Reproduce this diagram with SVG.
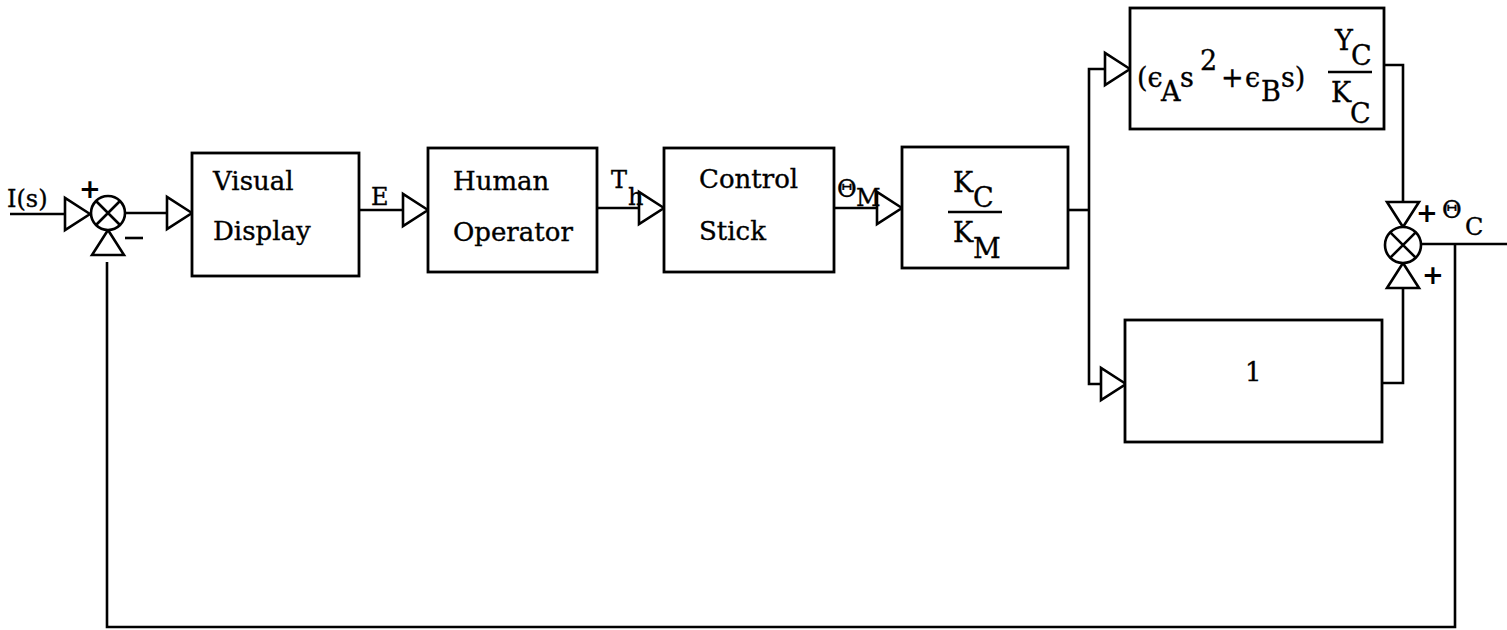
<svg xmlns="http://www.w3.org/2000/svg" xmlns:xlink="http://www.w3.org/1999/xlink" width="1507" height="630" viewBox="0 0 1507 630">
<style>
.box{fill:#fff;stroke:#000;stroke-width:2.8}
.ln{fill:none;stroke:#000;stroke-width:2.6;stroke-linejoin:miter}
.sum{fill:#fff;stroke:#000;stroke-width:2.6}
.t{font-family:"DejaVu Serif","Liberation Serif",serif;font-size:26px;fill:#000;stroke:#000;stroke-width:0.35}
.m{font-family:"DejaVu Serif","Liberation Serif",serif;font-size:27px;fill:#000;stroke:#000;stroke-width:0.35}
.s{font-family:"DejaVu Serif","Liberation Serif",serif;font-size:24px;fill:#000;stroke:#000;stroke-width:0.35}
.sg{font-family:"DejaVu Sans","Liberation Sans",sans-serif;font-size:26px;font-weight:bold;fill:#000}
</style>
<defs>
<path id="tri" d="M0,0 L-25,-16 L-25,16 Z" fill="#fff" stroke="#000" stroke-width="2.6" stroke-linejoin="miter"/>
</defs>
<rect width="1507" height="630" fill="#fff"/>
<g id="connectors">
<path class="ln" d="M10,214 H67"/>
<path class="ln" d="M125,213 H168"/>
<path class="ln" d="M359,210 H404"/>
<path class="ln" d="M597,208 H640"/>
<path class="ln" d="M834,208 H878"/>
<path class="ln" d="M1068,210 H1089"/>
<path class="ln" d="M1106,69 H1089 V384 H1102"/>
<path class="ln" d="M1384,65 H1403 V202"/>
<path class="ln" d="M1382,383 H1403 V288"/>
<path class="ln" d="M1421,244 H1507"/>
<path class="ln" d="M1455,244 V627 H107 V262"/>
<use xlink:href="#tri" href="#tri" x="90" y="214"/>
<use xlink:href="#tri" href="#tri" x="192" y="213"/>
<use xlink:href="#tri" href="#tri" x="428" y="210"/>
<use xlink:href="#tri" href="#tri" x="664" y="208"/>
<use xlink:href="#tri" href="#tri" x="902" y="208"/>
<use xlink:href="#tri" href="#tri" x="1130" y="69"/>
<use xlink:href="#tri" href="#tri" x="1126" y="384"/>
<use xlink:href="#tri" href="#tri" transform="translate(1403,227) rotate(90)"/>
<use xlink:href="#tri" href="#tri" transform="translate(1403,263) rotate(-90)"/>
<use xlink:href="#tri" href="#tri" transform="translate(108,230) rotate(-90)"/>
</g>
<g id="labels">
<text class="s" x="7" y="207" font-size="26">I(s)</text>
<text class="sg" x="79" y="198">+</text>
<path class="ln" d="M125,238 H143"/>
<text class="s" x="371" y="205" font-size="25">E</text>
<text class="s" x="611" y="188" font-size="25">T</text>
<text class="s" x="628" y="205" font-size="19">h</text>
<text class="s" x="837" y="197" font-size="20">Θ</text>
<text class="s" x="856" y="206">M</text>
<text class="sg" x="1416" y="222">+</text>
<text class="sg" x="1422" y="284">+</text>
<text class="s" x="1442" y="218" font-size="20">Θ</text>
<text class="s" x="1465" y="235">C</text>
</g>
<g id="sum1">
<circle class="sum" cx="108" cy="213" r="17"/>
<path class="ln" d="M96,201 L120,225 M120,201 L96,225"/>
</g>
<g id="sum2">
<circle class="sum" cx="1403" cy="245" r="18"/>
<path class="ln" d="M1390.3,232.3 L1415.7,257.7 M1415.7,232.3 L1390.3,257.7"/>
</g>
<g id="visual-display">
<rect class="box" x="192" y="153" width="167" height="123"/>
<text class="t" x="213" y="190">Visual</text>
<text class="t" x="213" y="240">Display</text>
</g>
<g id="human-operator">
<rect class="box" x="428" y="148" width="169" height="124"/>
<text class="t" x="453" y="190">Human</text>
<text class="t" x="453" y="241">Operator</text>
</g>
<g id="control-stick">
<rect class="box" x="664" y="148" width="170" height="124"/>
<text class="t" x="699" y="188">Control</text>
<text class="t" x="699" y="240">Stick</text>
</g>
<g id="gain">
<rect class="box" x="902" y="147" width="166" height="121"/>
<text class="m" x="953" y="192">K</text>
<text class="m" x="973" y="207">C</text>
<path class="ln" d="M948,212 H1002"/>
<text class="m" x="953" y="242">K</text>
<text class="m" x="973" y="258">M</text>
</g>
<g id="dynamics">
<rect class="box" x="1130" y="8" width="254" height="121"/>
<text class="m" x="1137" y="87">(ϵ</text>
<text class="m" x="1161" y="101">A</text>
<text class="m" x="1180" y="87">s</text>
<text class="m" x="1200" y="70">2</text>
<text class="m" x="1221" y="87">+</text>
<text class="m" x="1245" y="87">ϵ</text>
<text class="m" x="1261" y="101">B</text>
<text class="m" x="1281" y="87">s)</text>
<text class="m" x="1335" y="50">Y</text>
<text class="m" x="1351" y="65">C</text>
<path class="ln" d="M1328,72 H1372"/>
<text class="m" x="1331" y="102">K</text>
<text class="m" x="1350" y="123">C</text>
</g>
<g id="unity">
<rect class="box" x="1125" y="320" width="257" height="122"/>
<text class="t" x="1245" y="381">1</text>
</g>
</svg>
